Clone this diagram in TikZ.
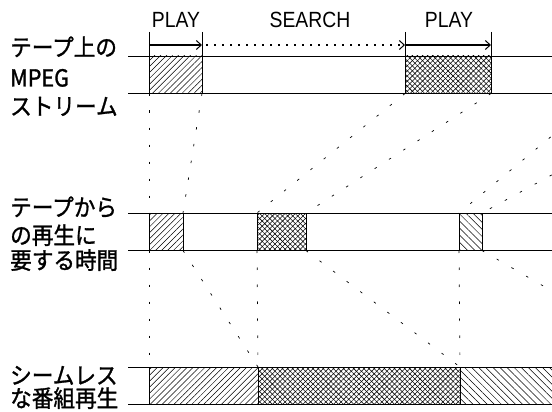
\documentclass[tikz,border=0pt]{standalone}
\usepackage{fontspec}
\setmainfont{Noto Sans CJK JP}[FakeStretch=0.92,FakeBold=1.2]
\newfontfamily\latfont{Liberation Sans}[FakeStretch=0.88]
\usetikzlibrary{patterns.meta,arrows.meta}
\begin{document}
\begin{tikzpicture}[x=1pt,y=-1pt,
  band/.style={draw=black, line width=0.7pt, inner sep=0pt, outer sep=0pt, anchor=north west, minimum height=37.5pt},
  hne/.style={pattern={Lines[angle=45,distance=4.2pt,line width=0.5pt]}},
  hnw/.style={pattern={Lines[angle=-45,distance=5pt,line width=0.5pt]}},
  hx/.style={pattern={Lines[angle=45,distance=3.6pt,line width=0.55pt]},
             postaction={pattern={Lines[angle=-45,distance=3.6pt,line width=0.55pt]}}},
  guide/.style={line width=0.7pt, dash pattern=on 2.5pt off 14.5pt},
  rail/.style={line width=0.6pt},
  tick/.style={line width=0.4pt},
  playarrow/.style={line width=1.5pt, -{Straight Barb[length=5pt,width=9pt,line width=1pt]}},
  searcharrow/.style={line width=1.5pt, dash pattern=on 1.5pt off 6.5pt, -{Straight Barb[length=5pt,width=9pt,line width=1pt]}},
  jlbl/.style={anchor=base west, inner sep=0pt, font=\fontsize{23.5}{28}\selectfont},
  tlbl/.style={anchor=base, inner sep=0pt, font=\latfont\fontsize{22}{24}\selectfont}
]
\useasboundingbox (0,0) rectangle (552,412);
\clip (0,0) rectangle (552,412);

% rails
\draw[rail] (128,56) -- (552,56);
\draw[rail] (128,93.5) -- (552,93.5);
\draw[rail] (128,213) -- (552,213);
\draw[rail] (128,250.5) -- (552,250.5);
\draw[rail] (128,367) -- (552,367);
\draw[rail] (128,404.5) -- (552,404.5);

% boxes: tape stream
\node[band, hne, minimum width=53pt] (t1) at (149,56) {};
\node[band, hx, minimum width=86pt] (t2) at (405,56) {};
% boxes: playback time
\node[band, hne, minimum width=34pt] (m1) at (149,213) {};
\node[band, hx, minimum width=49pt] (m2) at (257,213) {};
\node[band, hnw, minimum width=23pt] (m3) at (459,213) {};
% boxes: seamless playback
\node[band, hne, minimum width=109pt] (b1) at (149,367) {};
\node[band, hx, minimum width=202pt] (b2) at (258,367) {};
\node[band, hnw, minimum width=100pt] (b3) at (460,367) {};

% off-canvas guide ends
\coordinate (t3w) at (603,93.5);
\coordinate (t3e) at (701,93.5);
\coordinate (b4e) at (683,367);

% guides
\draw[guide] (t1.south west) -- (m1.north west);
\draw[guide] (t1.south east) -- (m1.north east);
\draw[guide] (t2.south west) -- (m2.north west);
\draw[guide] (t2.south east) -- (m2.north east);
\draw[guide] (t3w) -- (m3.north west);
\draw[guide] (t3e) -- (m3.north east);
\draw[guide] (m1.south west) -- (b1.north west);
\draw[guide] (m1.south east) -- (b1.north east);
\draw[guide] (m2.south west) -- (b2.north west);
\draw[guide] (m2.south east) -- (b2.north east);
\draw[guide] (m3.south west) -- (b3.north west);
\draw[guide] (m3.south east) -- (b4e);

% ticks and arrows
\coordinate (k1) at (149,32);
\coordinate (k2) at (202,32);
\coordinate (k3) at (405,32);
\coordinate (k4) at (491,32);
\draw[tick] (k1) -- (t1.north west);
\draw[tick] (k2) -- (t1.north east);
\draw[tick] (k3) -- (t2.north west);
\draw[tick] (k4) -- (t2.north east);
\coordinate (a1) at (149,45);
\coordinate (a2) at (202,45);
\coordinate (a2b) at (206,45);
\coordinate (a3) at (405,45);
\coordinate (a4) at (491,45);
\draw[playarrow] (a1) -- (a2);
\draw[searcharrow] (a2b) -- (a3);
\draw[playarrow] (a3) -- (a4);

% top labels
\node[tlbl] (play1) at (176,28) {PLAY};
\node[tlbl] (search) at (310,28) {SEARCH};
\node[tlbl] (play2) at (449,28) {PLAY};

% left labels
\node[jlbl] (l1a) at (10,56) {テープ上の};
\node[jlbl] (l1b) at (10,86.5) {MPEG};
\node[jlbl] (l1c) at (10,115) {ストリーム};
\node[jlbl] (l2a) at (10,216) {テープから};
\node[jlbl] (l2b) at (10,244) {の再生に};
\node[jlbl] (l2c) at (10,269) {要する時間};
\node[jlbl] (l3a) at (10,384) {シームレス};
\node[jlbl] (l3b) at (10,407) {な番組再生};
\end{tikzpicture}
\end{document}
